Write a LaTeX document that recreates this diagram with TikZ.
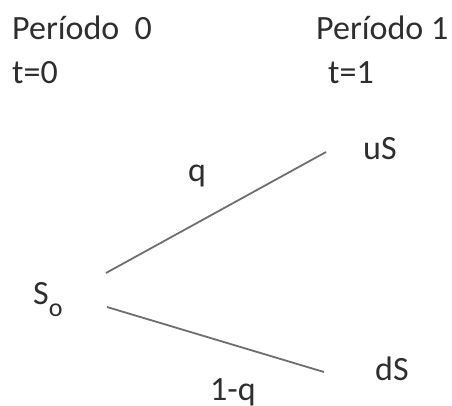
\documentclass[tikz,border=0pt]{standalone}
\usepackage{fontspec}
\setmainfont{Carlito}
\usetikzlibrary{positioning}
\definecolor{txtgray}{HTML}{2E2E2E}
\definecolor{linegray}{HTML}{6E6E6E}

\begin{document}
\begin{tikzpicture}[
    x=1pt, y=-1pt,
    lbl/.style={anchor=base west, inner sep=0pt, text=txtgray, font=\fontsize{34}{40}\selectfont},
    branch/.style={draw=linegray, line width=1.8pt}
]
\useasboundingbox (0,0) rectangle (452,405);

% periods
\node[lbl] (per0) at (12,39) {Período~~0};
\node[lbl] (per1) at (316,39) {Período 1};
\node[lbl] (t0) at (12,83) {t=0};
\node[lbl] (t1) at (328,83) {t=1};

% tree
\node[lbl] (s0) at (33,304) {S\raisebox{-12pt}{\fontsize{26}{26}\selectfont o}};
\node[lbl] (us) at (363,159) {uS};
\node[lbl] (ds) at (375,380) {dS};
\node[lbl] (q) at (188,181) {q};
\node[lbl] (oneq) at (210,400) {1-q};

\coordinate (upfrom) at (106,273);
\coordinate (upto) at (326,152);
\coordinate (downfrom) at (107,307);
\coordinate (downto) at (324,372);

\draw[branch] (upfrom) -- (upto);
\draw[branch] (downfrom) -- (downto);
\end{tikzpicture}
\end{document}
